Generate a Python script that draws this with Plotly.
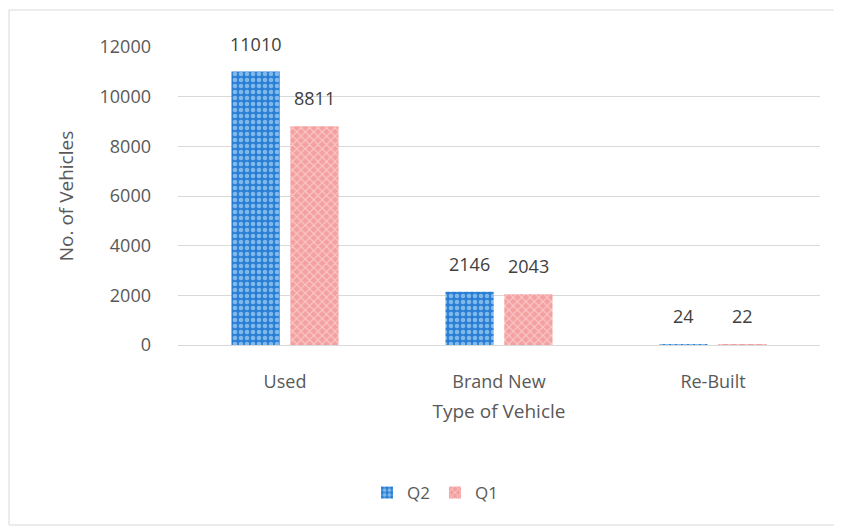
import plotly.graph_objects as go

categories = ["Used", "Brand New", "Re-Built"]
q2_values = [11010, 2146, 24]
q1_values = [8811, 2043, 22]
y_ticks = [0, 2000, 4000, 6000, 8000, 10000, 12000]

FONT = "Open Sans"
OFF = 8  # page body margin
W, H = 842 - OFF, 531 - OFF
L, R, T, B = 178 - OFF, 22, 47 - OFF, 186
pw, ph = W - L - R, H - T - B


def px_x(x):
    return (x - OFF - L) / pw


def px_y(y):
    return (T + ph - (y - OFF)) / ph


fig = go.Figure()
fig.add_trace(go.Bar(
    name="Q2", x=categories, y=q2_values,
    marker=dict(color="#2f84d8", line=dict(width=0),
                pattern=dict(shape=".", bgcolor="#2a7fd4", fgcolor="#d8f2ff",
                             size=6, solidity=0.45)),
))
fig.add_trace(go.Bar(
    name="Q1", x=categories, y=q1_values,
    marker=dict(color="#f29a9a", line=dict(width=0),
                pattern=dict(shape="x", bgcolor="#f4a0a0", fgcolor="#fff2f2",
                             size=6, solidity=0.35)),
))

annotations = []
for vals, shift in ((q2_values, -29.5), (q1_values, 29.5)):
    for c, v in zip(categories, vals):
        annotations.append(dict(x=c, y=v, xref="x", yref="y", text=str(v),
                                showarrow=False, xshift=shift, yshift=28,
                                font=dict(family=FONT, size=18, color="#404040")))

fig.update_layout(
    width=W, height=H,
    margin=dict(l=L, r=R, t=T, b=B, autoexpand=False),
    paper_bgcolor="white", plot_bgcolor="white",
    barmode="group", bargap=0.45, bargroupgap=0.18,
    font=dict(family=FONT, color="#595959"),
    annotations=annotations,
    legend=dict(orientation="h", x=px_x(435), xanchor="center",
                y=px_y(493), yanchor="middle",
                font=dict(family=FONT, size=17, color="#595959"),
                itemwidth=30, tracegroupgap=0),
    shapes=[dict(type="rect", xref="paper", yref="paper",
                 x0=px_x(9), x1=px_x(838),
                 y0=px_y(525), y1=px_y(10),
                 line=dict(color="#d9d9d9", width=1), fillcolor="rgba(0,0,0,0)",
                 layer="below")],
)
fig.update_xaxes(
    type="category", showgrid=False, showline=False, zeroline=False,
    tickfont=dict(family=FONT, size=18, color="#595959"),
    ticklabelstandoff=24, automargin=False,
    title=dict(text="Type of Vehicle", standoff=12,
               font=dict(family=FONT, size=19, color="#595959")),
)
fig.update_yaxes(
    range=[0, 12000], tickvals=y_ticks, ticktext=[str(t) for t in y_ticks],
    showgrid=True, gridcolor="#d9d9d9",
    gridwidth=1, zeroline=True, zerolinecolor="#d9d9d9", zerolinewidth=1,
    showline=False, tickfont=dict(family=FONT, size=18, color="#595959"),
    ticklabelstandoff=26, automargin=False,
    title=dict(text="No. of Vehicles", standoff=20,
               font=dict(family=FONT, size=19, color="#595959")),
)

fig.write_html("out.html")
